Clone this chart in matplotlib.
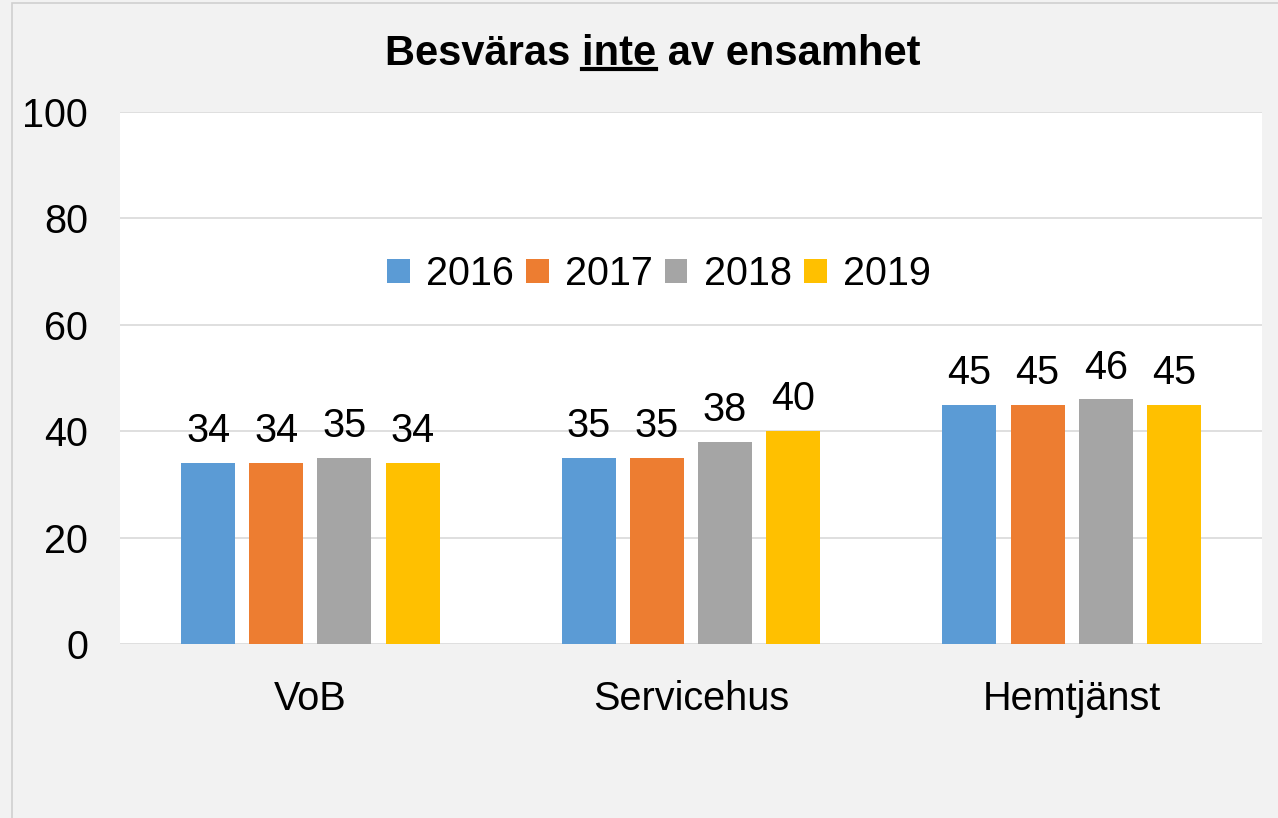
import matplotlib
matplotlib.use("Agg")
import matplotlib.pyplot as plt
from matplotlib.lines import Line2D
from matplotlib.patches import Rectangle
import numpy as np

plt.rcParams['font.family'] = ['Liberation Sans', 'DejaVu Sans']

categories = ['VoB', 'Servicehus', 'Hemtjänst']
years = ['2016', '2017', '2018', '2019']
values = {
    '2016': [34, 35, 45],
    '2017': [34, 35, 45],
    '2018': [35, 38, 46],
    '2019': [34, 40, 45],
}
colors = ['#5B9BD5', '#ED7D31', '#A5A5A5', '#FFC000']
yticks = [0, 20, 40, 60, 80, 100]

W, H = 1278, 818
fs = 28.5
fig = plt.figure(figsize=(W / 100, H / 100), dpi=100, facecolor='#F2F2F2')
# chart border (image is cropped on right/bottom)
fig.patches.append(Rectangle((12 / W, -0.1), 1.2, 1 - 3 / H + 0.1, transform=fig.transFigure,
                             fill=False, edgecolor='#D0D0D0', linewidth=1.2))

ax = fig.add_axes([120 / W, 1 - 644 / H, (1262 - 120) / W, (644 - 112) / H])
ax.set_facecolor('white')

x = np.arange(len(categories))
step = 0.179
width = 0.142
for i, yr in enumerate(years):
    offs = (i - 1.5) * step
    bars = ax.bar(x + offs, values[yr], width, color=colors[i], label=yr, zorder=3)
    for b, v in zip(bars, values[yr]):
        ax.text(b.get_x() + b.get_width() / 2, v + 3.9, str(v), ha='center', va='baseline',
                fontsize=fs, color='black', zorder=4)

ax.set_xlim(-0.5, 2.5)
ax.set_ylim(0, 100)
ax.set_yticks(yticks)
ax.set_xticks(x)
ax.set_xticklabels(categories)
ax.grid(axis='y', color='#D9D9D9', linewidth=1.2, zorder=0)
ax.tick_params(axis='both', length=0, labelsize=fs)
ax.tick_params(axis='y', pad=23)
ax.tick_params(axis='x', pad=26)
for s in ax.spines.values():
    s.set_visible(False)

ax.legend(loc='center', bbox_to_anchor=(659 / W, 1 - 274 / H), bbox_transform=fig.transFigure,
          ncol=4, frameon=False, fontsize=fs, handlelength=0.57, handleheight=0.57,
          handletextpad=0.42, columnspacing=0.3, borderpad=0)

# title with underlined "inte"
title = 'Besväras inte av ensamhet'
ty = 1 - 54 / H
tfs = 30
t = fig.text(653 / W, ty, title, ha='center', va='center', fontsize=tfs, fontweight='bold')
fig.canvas.draw()
r = fig.canvas.get_renderer()
bb = t.get_window_extent(r)
tmp = fig.text(0, 0, 'Besväras ', fontsize=tfs, fontweight='bold')
w1 = tmp.get_window_extent(r).width
tmp.set_text('inte')
w2 = tmp.get_window_extent(r).width
tmp.remove()
x0 = (bb.x0 + w1) / W
x1 = (bb.x0 + w1 + w2) / W
uy = (bb.y0 + 5) / H
fig.lines.append(Line2D([x0, x1], [uy, uy], transform=fig.transFigure, color='black', linewidth=3))

fig.savefig('out.png', dpi=100, facecolor=fig.get_facecolor())
